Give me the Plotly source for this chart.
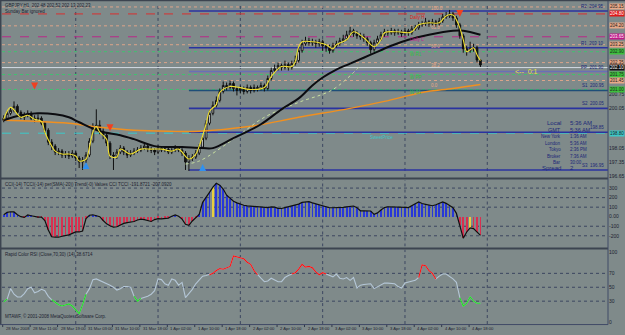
import plotly.graph_objects as go

W, H = 625, 335
BG = "#7f8a8a"
DARK = "#1e2230"
NAVY = "#1c2878"
FONT = "Liberation Sans"


def px(x):
    return x / W


def py(y):
    return 1 - y / H


# ---------------- data ----------------
closes = [199.55, 199.80, 199.95, 200.15, 199.85, 199.60, 199.70, 199.80, 199.55, 199.50,
          199.55, 199.30, 198.95, 198.35, 198.15, 197.85, 197.90, 197.70, 197.75, 197.65,
          197.80, 197.55, 197.35, 197.45, 197.70, 198.40, 199.05, 199.20, 198.90, 198.70,
          198.30, 197.70, 197.65, 197.85, 198.05, 197.85, 197.70, 197.80, 197.90, 197.95,
          198.05, 198.15, 198.00, 197.95, 197.85, 198.05, 197.95, 198.00, 197.85, 197.95,
          198.05, 197.95, 197.80, 197.35, 197.55, 197.60, 197.80, 198.10, 198.55, 199.30,
          199.80, 200.20, 200.45, 200.90, 201.20, 201.10, 201.30, 201.05, 200.95, 201.05,
          200.90, 201.10, 200.95, 201.10, 201.05, 201.20, 201.05, 201.55, 201.95, 202.05,
          202.20, 202.10, 202.25, 202.10, 202.30, 202.45, 202.95, 203.30, 203.45, 203.35,
          203.40, 203.30, 203.40, 203.20, 203.10, 202.95, 203.20, 203.30, 203.45, 203.55,
          203.75, 203.95, 203.80, 203.70, 203.65, 203.55, 203.35, 203.00, 203.35, 203.55,
          203.75, 203.90, 203.85, 203.95, 203.85, 203.90, 203.80, 203.95, 203.85, 204.05,
          204.10, 204.25, 204.30, 204.40, 204.30, 204.40, 204.30, 204.45, 204.65, 204.70,
          204.80, 204.60, 204.25, 203.70, 203.05, 202.95, 203.05, 203.10, 202.48, 202.23]
highs = [199.70, 199.90, 200.10, 200.40, 200.25, 199.95, 199.85, 199.95, 199.90, 199.70,
         199.75, 199.65, 199.40, 199.05, 198.50, 198.25, 198.05, 198.00, 197.90, 197.90,
         197.95, 197.90, 197.65, 197.60, 197.85, 198.55, 199.30, 200.00, 199.45, 199.05,
         198.85, 198.40, 197.85, 198.00, 198.20, 198.15, 197.95, 197.95, 198.05, 198.10,
         198.20, 198.30, 198.25, 198.10, 198.05, 198.20, 198.15, 198.10, 198.10, 198.05,
         198.20, 198.15, 198.05, 197.90, 197.70, 197.75, 197.95, 198.25, 198.70, 199.45,
         199.95, 200.40, 200.65, 201.05, 201.40, 201.35, 201.45, 201.40, 201.15, 201.20,
         201.15, 201.25, 201.20, 201.25, 201.20, 201.35, 201.30, 201.70, 202.10, 202.25,
         202.35, 202.30, 202.45, 202.35, 202.45, 202.70, 203.15, 203.50, 203.65, 203.60,
         203.55, 203.50, 203.55, 203.50, 203.30, 203.25, 203.35, 203.45, 203.60, 203.75,
         203.95, 204.15, 204.05, 203.95, 203.85, 203.80, 203.65, 203.45, 203.50, 203.70,
         203.90, 204.05, 204.00, 204.10, 204.05, 204.05, 204.00, 204.10, 204.05, 204.20,
         204.25, 204.40, 204.45, 204.60, 204.50, 204.55, 204.50, 204.60, 204.80, 204.90,
         205.00, 204.90, 204.70, 204.35, 203.80, 203.20, 203.40, 203.30, 203.20, 202.52]
lows = [199.35, 199.45, 199.70, 199.85, 199.70, 199.50, 199.45, 199.60, 199.45, 199.35,
        199.40, 199.20, 198.80, 198.20, 197.95, 197.70, 197.70, 197.55, 197.55, 197.50,
        197.55, 197.40, 197.05, 196.95, 197.30, 197.60, 198.30, 198.95, 198.75, 198.50,
        198.15, 197.50, 196.95, 197.50, 197.75, 197.70, 197.55, 197.60, 197.70, 197.80,
        197.85, 197.95, 197.85, 197.80, 197.70, 197.75, 197.85, 197.85, 197.75, 197.75,
        197.85, 197.85, 197.65, 196.95, 196.90, 197.40, 197.50, 197.70, 198.00, 198.45,
        199.20, 199.70, 200.10, 200.35, 200.80, 200.95, 201.00, 200.90, 200.70, 200.80,
        200.75, 200.80, 200.80, 200.85, 200.90, 200.95, 200.90, 200.95, 201.45, 201.85,
        201.95, 201.95, 202.00, 201.95, 202.00, 202.20, 202.35, 202.85, 203.20, 203.20,
        203.20, 203.10, 203.15, 202.95, 202.90, 202.80, 202.85, 203.10, 203.20, 203.35,
        203.45, 203.65, 203.65, 203.55, 203.50, 203.40, 203.20, 202.80, 202.90, 203.25,
        203.45, 203.65, 203.70, 203.75, 203.70, 203.75, 203.65, 203.70, 203.70, 203.75,
        203.95, 204.00, 204.15, 204.20, 204.15, 204.20, 204.15, 204.20, 204.35, 204.55,
        204.60, 204.45, 204.10, 203.55, 202.85, 202.70, 202.85, 202.90, 202.35, 202.13]
first_open = 199.45
bars = list(range(len(closes)))
opens = [first_open] + closes[:-1]

yellow_bars = [0, 2, 5, 7, 9, 11, 12, 14, 15, 17, 19, 21, 22, 24, 25, 26, 27, 28, 30, 31,
               33, 34, 37, 40, 43, 46, 49, 51, 54, 56, 57, 59, 60, 62, 63, 66, 72, 76, 78, 81,
               84, 85, 86, 87, 90, 92, 94, 96, 97, 100, 102, 105, 108, 110, 111, 115, 118, 119, 121, 124,
               127, 129, 131, 132, 133, 134, 135, 136, 137, 138, 139]
yellow_vals = [199.50, 200.10, 199.60, 199.70, 199.50, 199.40, 198.85, 198.15, 197.90, 197.75,
               197.75, 197.65, 197.40, 197.50, 198.10, 198.85, 199.15, 198.85, 198.50, 197.65,
               197.60, 198.00, 197.75, 198.00, 198.00, 198.00, 197.90, 198.00, 197.50, 197.75,
               198.15, 199.25, 199.90, 200.25, 200.85, 201.15, 201.00, 201.10, 201.65, 202.15,
               202.15, 202.40, 203.15, 203.40, 203.40, 203.35, 203.25, 203.05, 203.25, 203.50,
               203.90, 203.60, 203.15, 203.50, 203.85, 203.90, 203.85, 203.90, 204.25, 204.35,
               204.35, 204.70, 204.75, 204.50, 204.10, 203.50, 202.90, 203.00, 203.10, 202.75,
               202.45]

ma_black_bars = [0, 5, 10, 15, 19, 22, 28, 34, 38, 44, 52, 58, 61, 67, 75, 81, 86, 90, 93, 97,
                 101, 107, 113, 118, 124, 131, 134, 139]
ma_black_vals = [199.45, 199.70, 199.80, 199.75, 199.60, 199.35, 198.90, 198.70, 198.50, 198.15,
                 198.10, 198.05, 198.05, 198.55, 199.25, 200.00, 200.55, 201.20, 201.60, 202.00,
                 202.30, 202.75, 203.20, 203.50, 203.75, 203.95, 203.95, 203.75]
ma_orange_bars = [0, 9, 19, 28, 38, 48, 57, 72, 86, 101, 111, 122, 131, 139]
ma_orange_vals = [199.45, 199.40, 199.30, 199.10, 198.95, 198.90, 198.90, 199.15, 199.60, 200.05,
                  200.40, 200.85, 201.05, 201.25]
ma_light_bars = [53, 57, 67, 76, 86, 96, 104]
ma_light_vals = [197.25, 197.40, 198.50, 199.60, 200.35, 201.00, 202.20]

sell_arrow_bars = [9, 31, 133]
sell_arrow_prices = [201.00, 198.90, 204.65]
buy_arrow_bars = [24, 58]
buy_arrow_prices = [197.35, 197.25]

level_prices = [205.15, 204.80, 204.20, 203.65, 203.25, 202.90, 202.35, 202.10, 201.75, 201.45, 201.00, 198.80]
level_colors = ["#dca48a", "#d83030", "#dca48a", "#b82888", "#dca48a", "#40c070", "#dca48a", "#d4dce4",
                "#40c070", "#dca48a", "#40c070", "#3cc8c8"]
level_dash = ["dot", "dash", "dot", "dash", "dot", "dot", "dot", "solid", "dot", "dot", "dot", "dash"]
level_box = ["#e8a888", "#e01818", "#e8a888", "#c01888", "#e8a888", "#3cc03c", "#e8a888", "#101010",
             "#3cc03c", "#e8a888", "#3cc03c", "#3cc8c8"]
level_box_text = ["#202020", "#ffffff", "#202020", "#ffffff", "#202020", "#202020", "#202020", "#ffffff",
                  "#202020", "#202020", "#202020", "#202020"]

pivot_prices = [204.95, 203.10, 201.90, 200.95, 200.05, 198.85, 196.95]
pivot_names = ["R2", "R1", "PP", "S1", "S2", "", "S3"]
pivot_colors = ["#2a32a0", "#2a32a0", "#6a6eb8", "#1e4e78", "#2a32a0", "#2a32a0", "#2a32a0"]
pivot_start_bar = 54

mid_texts = ["Daily H", "Daily L", "W R1", "W PP", "W S1"]
mid_prices = [204.62, 203.50, 202.75, 201.60, 200.85]
mid_colors = ["#e02020", "#c0208c", "#30c040", "#30c040", "#30c040"]
fib_texts = ["100.0", "61.8", "50.0", "38.2", "0.0"]
fib_prices = [205.05, 204.10, 203.15, 202.20, 201.20]

cci = [20, 45, 52, 50, 20, 0, -8, 18, 10, 0,
       -5, -5, -40, -140, -210, -215, -215, -205, -200, -190,
       -175, -160, -160, -150, -20, 15, 20, 10, 0, -40,
       -75, -95, -110, -105, -85, -70, -62, -55, -50, -35,
       -25, -30, -40, -50, -30, -20, -22, -20, -15, 5,
       18, 5, -25, -80, -90, -45, -10, 25, 150, 210,
       255, 310, 350, 330, 290, 225, 190, 162, 145, 130,
       120, 114, 110, 106, 104, 100, 95, 95, 102, 100,
       88, 86, 95, 104, 110, 120, 132, 150, 155, 157,
       145, 135, 128, 115, 100, 94, 94, 94, 94, 97,
       102, 104, 112, 95, 62, 62, 62, 60, 25, 40,
       70, 95, 104, 104, 104, 104, 104, 98, 95, 112,
       135, 155, 138, 130, 120, 115, 125, 140, 155, 140,
       115, 95, 35, -90, -225, -160, -118, -125, -160, -195]
cci_yellow_bars = [61, 136]

rsi = [29, 33, 48, 40, 36, 36, 41, 48, 50, 42,
       44, 47, 45, 37, 32, 28, 25, 23, 24, 26,
       23, 18, 12, 25, 40, 48, 61, 62, 60, 58,
       56, 53, 50, 46, 48, 51, 51, 50, 37, 30,
       34, 35, 37, 40, 45, 62, 61, 55, 53, 62,
       60, 53, 57, 35, 41, 47, 55, 61, 66, 67,
       68, 70, 74, 77, 76, 78, 80, 95, 94, 93,
       91, 86, 83, 74, 68, 63, 58, 59, 63, 61,
       58, 58, 64, 67, 69, 71, 76, 83, 79, 80,
       78, 72, 68, 71, 69, 67, 65, 69, 63, 62,
       64, 60, 64, 49, 53, 54, 54, 55, 48, 51,
       54, 56, 56, 56, 55, 51, 49, 56, 57, 58,
       60, 64, 82, 81, 74, 70, 62, 66, 69, 69,
       66, 62, 57, 35, 23, 27, 36, 30, 27, 27]

tick_bars = [0, 8, 16, 24, 32, 40, 48, 56, 64, 72, 80, 88, 96, 104, 112, 120, 128, 136]
tick_labels = ["28 Mar 2008", "28 Mar 11:00", "28 Mar 19:00", "31 Mar 03:00", "31 Mar 10:00",
               "31 Mar 18:00", "1 Apr 02:00", "1 Apr 10:00", "1 Apr 18:00", "2 Apr 02:00",
               "2 Apr 10:00", "2 Apr 18:00", "3 Apr 02:00", "3 Apr 10:00", "3 Apr 18:00",
               "4 Apr 02:00", "4 Apr 10:00", "4 Apr 18:00"]
grid_bars = [21, 45, 69, 93, 117, 141]

price_ticks = [196.65, 197.35, 198.05, 200.05, 200.75]
cci_ticks = [300, 200, 100, 0, -100, -200]
cci_tick_text = ["300", "200", "100", "0.00", "-100", "-200"]
rsi_ticks = [100, 70, 50, 30, 0]

info_labels = ["Local", "GMT", "New York", "London", "Tokyo", "Broker", "Bar", "Spread"]
info_values = ["5:36 AM", "5:36 AM", "1:36 AM", "5:36 AM", "2:36 PM", "7:36 AM", "30:00", "2"]

# ---------------- figure ----------------
XR = [-0.5, 176.2]
fig = go.Figure()

# main panel
fig.add_trace(go.Scatter(x=ma_orange_bars, y=ma_orange_vals, mode="lines", line_shape="spline",
                         line=dict(color="#f09020", width=1.4), xaxis="x", yaxis="y"))
fig.add_trace(go.Scatter(x=ma_light_bars, y=ma_light_vals, mode="lines", line_shape="spline",
                         line=dict(color="#c8e0a0", width=1, dash="dot"), xaxis="x", yaxis="y"))
fig.add_trace(go.Candlestick(
    x=bars, open=opens, high=highs, low=lows, close=closes,
    increasing=dict(line=dict(color="#101010", width=1), fillcolor="#ffffff"),
    decreasing=dict(line=dict(color="#101010", width=1), fillcolor="#101010"),
    whiskerwidth=0, xaxis="x", yaxis="y", hoverinfo="skip"))
fig.add_trace(go.Scatter(x=ma_black_bars, y=ma_black_vals, mode="lines", line_shape="spline",
                         line=dict(color="#0c0c10", width=2), xaxis="x", yaxis="y"))
fig.add_trace(go.Scatter(x=yellow_bars, y=yellow_vals, mode="lines", line_shape="spline",
                         line=dict(color="#f0e030", width=1.1), xaxis="x", yaxis="y"))
fig.add_trace(go.Scatter(x=sell_arrow_bars, y=sell_arrow_prices, mode="markers",
                         marker=dict(symbol="arrow-down", size=7, color="#f04020"), xaxis="x", yaxis="y"))
fig.add_trace(go.Scatter(x=buy_arrow_bars, y=buy_arrow_prices, mode="markers",
                         marker=dict(symbol="arrow-up", size=7, color="#3090f0"), xaxis="x", yaxis="y"))

# CCI panel
hist_colors = []
for i, v in enumerate(cci):
    if i in cci_yellow_bars:
        hist_colors.append("#e8d040")
    elif v >= 0:
        hist_colors.append("#2838d8")
    else:
        hist_colors.append("#d83050")
fig.add_trace(go.Bar(x=bars, y=cci, width=0.22, marker=dict(color=hist_colors, line=dict(width=0)),
                     xaxis="x2", yaxis="y2"))
fig.add_trace(go.Scatter(x=bars, y=cci, mode="lines", line=dict(color="#101010", width=1.2),
                         xaxis="x2", yaxis="y2"))

# RSI panel
n = len(rsi)
red = [rsi[i] if (rsi[i] >= 70 or (i > 0 and rsi[i - 1] >= 70) or (i < n - 1 and rsi[i + 1] >= 70)) else None
       for i in range(n)]
green = [rsi[i] if (rsi[i] <= 30 or (i > 0 and rsi[i - 1] <= 30) or (i < n - 1 and rsi[i + 1] <= 30)) else None
         for i in range(n)]
fig.add_trace(go.Scatter(x=bars, y=rsi, mode="lines", line=dict(color="#b4c6d6", width=1.1),
                         xaxis="x3", yaxis="y3"))
fig.add_trace(go.Scatter(x=bars, y=red, mode="lines", line=dict(color="#ff1010", width=1.1),
                         connectgaps=False, xaxis="x3", yaxis="y3"))
fig.add_trace(go.Scatter(x=bars, y=green, mode="lines", line=dict(color="#20e020", width=1.1),
                         connectgaps=False, xaxis="x3", yaxis="y3"))

shapes = []
annotations = []

# vertical grid
for gb in grid_bars:
    for xr, yr, lo, hi in [("x", "y", 196.60, 205.35), ("x2", "y2", -312.5, 385.4), ("x3", "y3", -2.9, 104.3)]:
        shapes.append(dict(type="line", xref=xr, yref=yr, x0=gb, x1=gb, y0=lo, y1=hi,
                           line=dict(color="#3c4660", width=1, dash="dot"), layer="below"))
for v in [300, 200, 100, -100, -200]:
    shapes.append(dict(type="line", xref="x2", yref="y2", x0=XR[0], x1=XR[1], y0=v, y1=v,
                       line=dict(color="#3c4660", width=1, dash="dot"), layer="below"))
for v in [70, 50, 30]:
    shapes.append(dict(type="line", xref="x3", yref="y3", x0=XR[0], x1=XR[1], y0=v, y1=v,
                       line=dict(color="#3c4660", width=1, dash="dot"), layer="below"))

# level lines
for p, c, d, bc, tc in zip(level_prices, level_colors, level_dash, level_box, level_box_text):
    shapes.append(dict(type="line", xref="x", yref="y", x0=XR[0], x1=XR[1], y0=p, y1=p,
                       line=dict(color=c, width=1, dash=d), layer="below"))
    annotations.append(dict(x=px(609), xref="paper", y=p, yref="y", text=f"{p:.2f}", showarrow=False,
                            xanchor="left", yanchor="middle", bgcolor=bc, borderpad=0,
                            font=dict(size=4.5, color=tc, family=FONT)))
# pivot lines
for p, nm, c in zip(pivot_prices, pivot_names, pivot_colors):
    shapes.append(dict(type="line", xref="x", yref="y", x0=pivot_start_bar, x1=XR[1], y0=p, y1=p,
                       line=dict(color=c, width=1.6), layer="below"))
    annotations.append(dict(x=px(606), xref="paper", y=p, yref="y", text=(f"{nm}  " if nm else "") + f"{p:.2f}",
                            showarrow=False, xanchor="right", yanchor="bottom",
                            font=dict(size=4.5, color=NAVY, family=FONT)))
for t, p, c in zip(mid_texts, mid_prices, mid_colors):
    annotations.append(dict(x=118, xref="x", y=p, yref="y", text=t, showarrow=False, xanchor="left",
                            yanchor="middle", font=dict(size=4.5, color=c, family=FONT)))
for t, p in zip(fib_texts, fib_prices):
    annotations.append(dict(x=124, xref="x", y=p, yref="y", text=t, showarrow=False, xanchor="left",
                            yanchor="middle", font=dict(size=4.5, color="#e8a888", family=FONT)))

annotations.append(dict(x=px(513), xref="paper", y=py(72), yref="paper", text="<--  0:1", showarrow=False,
                        xanchor="left", yanchor="middle", font=dict(size=7, color="#e8e040", family=FONT)))
annotations.append(dict(x=px(368), xref="paper", y=py(138), yref="paper", text="SweetPrice", showarrow=False,
                        xanchor="left", yanchor="middle", font=dict(size=4.5, color="#3cc8c8", family=FONT)))

# info box
info_rows = [123.5, 130.5, 137.5, 144, 150.5, 157, 163, 169]
info_sizes = [6, 5.5, 4.5, 4.5, 4.5, 4.5, 4.5, 6]
for lab, val, yy, fs in zip(info_labels, info_values, info_rows, info_sizes):
    annotations.append(dict(x=px(563), xref="paper", y=py(yy), yref="paper", text=lab, showarrow=False,
                            xanchor="right", yanchor="middle", font=dict(size=fs, color=NAVY, family=FONT)))
    annotations.append(dict(x=px(568), xref="paper", y=py(yy), yref="paper", text=val, showarrow=False,
                            xanchor="left", yanchor="middle", font=dict(size=fs, color=NAVY, family=FONT)))

# panel captions
annotations.append(dict(x=px(3), xref="paper", y=py(1), yref="paper", text="GBPJPY,H1  202.48 202.52 202.13 202.23",
                        showarrow=False, xanchor="left", yanchor="top", font=dict(size=4.5, color=DARK, family=FONT)))
annotations.append(dict(x=px(3), xref="paper", y=py(7), yref="paper", text="Sunday Bar ignored",
                        showarrow=False, xanchor="left", yanchor="top", font=dict(size=4.5, color=DARK, family=FONT)))
annotations.append(dict(x=px(3), xref="paper", y=py(181), yref="paper",
                        text="CCI(-14) TCCI(-14) per(SMA(-20)) Trend(-0) Values CCI TCCI -191.8721 -207.0920",
                        showarrow=False, xanchor="left", yanchor="top", font=dict(size=4.5, color=DARK, family=FONT)))
annotations.append(dict(x=px(3), xref="paper", y=py(252), yref="paper",
                        text="Rapid Color RSI (Close,70,30) (14) 38.6714",
                        showarrow=False, xanchor="left", yanchor="top", font=dict(size=4.5, color=DARK, family=FONT)))
annotations.append(dict(x=px(3), xref="paper", y=py(323), yref="paper",
                        text="MTAWF, © 2001-2008 MetaQuotes Software Corp.",
                        showarrow=False, xanchor="left", yanchor="bottom", font=dict(size=4.5, color=DARK, family=FONT)))

# x labels
for tb, tl in zip(tick_bars, tick_labels):
    annotations.append(dict(x=tb, xref="x3", y=py(330.5), yref="paper", text=tl, showarrow=False,
                            xanchor="left", yanchor="middle", font=dict(size=4.2, color=DARK, family=FONT)))
    shapes.append(dict(type="line", xref="x3", yref="paper", x0=tb - 0.3, x1=tb - 0.3, y0=py(326), y1=py(329),
                       line=dict(color="#303848", width=1)))

# frame & separators
frame = "#3c4450"
for y0, y1 in [(178.5, 180.5), (249, 251)]:
    shapes.append(dict(type="rect", xref="paper", yref="paper", x0=px(0), x1=px(608), y0=py(y1), y1=py(y0),
                       fillcolor=frame, line=dict(width=0)))
shapes.append(dict(type="line", xref="paper", yref="paper", x0=px(608), x1=px(608), y0=py(326.5), y1=1,
                   line=dict(color="#404a66", width=1)))
shapes.append(dict(type="line", xref="paper", yref="paper", x0=0, x1=px(608), y0=py(326.5), y1=py(326.5),
                   line=dict(color="#404a66", width=1)))
shapes.append(dict(type="line", xref="paper", yref="paper", x0=0, x1=1, y0=py(0.5), y1=py(0.5),
                   line=dict(color=frame, width=1.5)))
shapes.append(dict(type="line", xref="paper", yref="paper", x0=px(0.7), x1=px(0.7), y0=py(326), y1=1,
                   line=dict(color=frame, width=1.5)))

axis_common = dict(showgrid=False, zeroline=False, showline=False, range=XR, domain=[px(2), px(608)],
                   showticklabels=False, ticks="", fixedrange=True)
yfont = dict(size=5, color=DARK, family=FONT)
fig.update_layout(
    width=W, height=H, margin=dict(l=0, r=0, t=0, b=0),
    paper_bgcolor=BG, plot_bgcolor=BG, showlegend=False, bargap=0,
    xaxis=dict(**axis_common, anchor="y", rangeslider=dict(visible=False)),
    xaxis2=dict(**axis_common, anchor="y2"),
    xaxis3=dict(**axis_common, anchor="y3"),
    yaxis=dict(domain=[py(178), py(3)], range=[196.60, 205.35], side="right", anchor="x",
               tickvals=price_ticks, ticktext=[f"{v:.2f}" for v in price_ticks], tickfont=yfont,
               showgrid=False, zeroline=False, ticks=""),
    yaxis2=dict(domain=[py(248), py(181)], range=[-312.5, 385.4], side="right", anchor="x2",
                tickvals=cci_ticks, ticktext=cci_tick_text, tickfont=yfont,
                showgrid=False, zeroline=False, ticks=""),
    yaxis3=dict(domain=[py(326), py(251)], range=[-2.9, 104.3], side="right", anchor="x3",
                tickvals=rsi_ticks, ticktext=[str(v) for v in rsi_ticks], tickfont=yfont,
                showgrid=False, zeroline=False, ticks=""),
    shapes=shapes, annotations=annotations,
)

fig.write_html("out.html")
